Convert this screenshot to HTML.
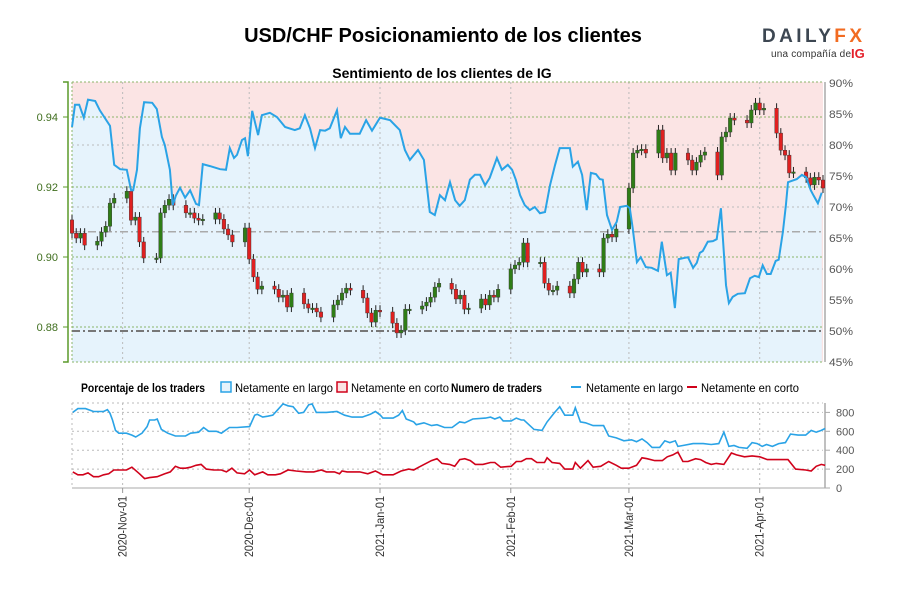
<!DOCTYPE html>
<html><head><meta charset="utf-8"><style>
body{margin:0;background:#fff;width:900px;height:600px;overflow:hidden}
svg text{font-family:"Liberation Sans Narrow","Liberation Sans",sans-serif}
</style></head><body>
<svg id="c" width="900" height="600" xmlns="http://www.w3.org/2000/svg">
<text x="443" y="42" text-anchor="middle" font-size="20" font-weight="bold" style="font-family:'Liberation Sans',sans-serif">USD/CHF Posicionamiento de los clientes</text>
<text x="442" y="78" text-anchor="middle" font-size="14" font-weight="bold" style="font-family:'Liberation Sans',sans-serif">Sentimiento de los clientes de IG</text>
<g>
<text x="762" y="42" font-size="19" font-weight="bold" fill="#3d4752" textLength="100" lengthAdjust="spacing" style="font-family:'Liberation Sans',sans-serif">DAILY<tspan fill="#f26b21">FX</tspan></text>
<text x="771" y="57" font-size="10" fill="#333" textLength="80" style="font-family:'Liberation Sans',sans-serif">una compañía de</text>
<text x="851" y="58" font-size="13" fill="#e4202a" font-weight="bold" style="font-family:'Liberation Sans',sans-serif">IG</text>
</g>
<g id="main"></g>
<g id="bottom"></g>
<g font-size="12">
<text x="81" y="392" font-weight="bold" textLength="124" lengthAdjust="spacingAndGlyphs">Porcentaje de los traders</text>
<rect x="221" y="382" width="10" height="10" fill="#e6f3fb" stroke="#2aa3e6" stroke-width="1.5"/>
<text x="235" y="392" textLength="98" lengthAdjust="spacingAndGlyphs">Netamente en largo</text>
<rect x="337" y="382" width="10" height="10" fill="#fbe3e3" stroke="#d0021b" stroke-width="1.5"/>
<text x="351" y="392" textLength="98" lengthAdjust="spacingAndGlyphs">Netamente en corto</text>
<text x="451" y="392" font-weight="bold" textLength="91" lengthAdjust="spacingAndGlyphs">Numero de traders</text>
<line x1="571" y1="387" x2="581" y2="387" stroke="#2aa3e6" stroke-width="2"/>
<text x="586" y="392" textLength="97" lengthAdjust="spacingAndGlyphs">Netamente en largo</text>
<line x1="687" y1="387" x2="697" y2="387" stroke="#d0021b" stroke-width="2"/>
<text x="701" y="392" textLength="98" lengthAdjust="spacingAndGlyphs">Netamente en corto</text>
</g>
</svg>
<script>
// ---- data ----
const sentDays=[0,0.7,1.7,2.8,3.8,5.5,6.6,9,10,11.4,13,14,14.5,15.4,16.1,17.1,19,20.1,21.3,22,23.2,23.9,24.6,25.6,26.8,28,29.4,30.1,31,32.7,35.1,36.5,37.4,38.4,39.1,40.3,41,41.7,42.7,44.1,45,46.9,48.6,50.5,52.8,54,55.2,56.4,57.6,58.8,60,61.1,62.8,63.7,64.7,65.9,68.2,69.7,71.1,73,75.4,77.7,78.9,80.1,82,83.4,84.8,86,87.2,88.4,89.6,90.8,91.9,93.1,94.3,95.5,96.7,97.9,99,100.7,101.9,103.3,104.3,105.2,106.2,107.3,108.5,109.7,110.9,112.1,113.3,114.5,115.6,118,118.7,119.9,120.9,122,123,124.2,125.1,125.8,126.8,128,129.1,129.9,131.5,132.2,132.9,133.9,134.8,136,137.4,138.9,139.8,141,141.9,142.9,143.8,145.3,146,147.2,148.1,148.8,149.5,150.7,151.9,152.8,153.8,155,155.7,156.6,157.8,159.5,160.7,161.8,162.8,163.7,164.7,165.6,166.8,167.5,168.5,169.2,169.7,171.8,173,174,175.1,175.8,176.8,177.7];
const sentLong=[82.9,86.5,86.5,84.4,87.3,87.1,85.6,83.1,76.8,76.1,76,72.7,72.7,76,82.7,86.9,86.8,85.8,81.3,80,76,70.3,71.8,73.1,71.5,72.7,70.5,70.3,76.9,76.6,76.1,76,79.5,77.9,78.4,80.8,81.1,78.2,85.5,81.6,84.8,85.2,84.5,82.9,82.4,82.7,84.8,82.7,79.5,82.4,82.3,82.7,85.6,81.1,82.9,81.8,81.8,84,82.3,84.4,84,82.4,79.2,77.6,79.2,77.6,69.2,68.7,71.9,71.1,74,71.1,70.2,71.1,74.4,75.2,75.2,73.5,74.7,77.9,76,76.8,76,74.4,71.9,70.3,69.5,70,69,69.2,73.5,76.8,79.5,79.5,76.5,77.3,75.2,69.5,75.5,75.3,74.5,74.4,68.7,66.3,67.6,70,70.2,69.8,66.6,61.1,61.9,60.3,60.2,59.7,64.4,59,59.4,53.7,61.6,61.8,61.9,60.2,61,62.6,62.9,64.4,64.5,64.8,69.8,57.4,54.5,55.5,56,56.1,58.5,58.9,58.7,60.6,59.2,59.2,61.3,61.5,66,70.3,74,74.5,75.2,74.8,72.7,71.8,70.6,72.3];
const closes=[0.9068,0.9054,0.9068,0.9034,
0.9045,0.9071,0.9088,0.9154,0.9168,
0.9188,0.9105,0.9114,0.9043,0.8997,
0.8997,0.9126,0.9148,0.9165,0.9148,
0.9126,0.9126,0.9111,0.9105,0.9108,
0.9126,0.9108,0.9080,0.9063,0.9043,
0.9083,0.8994,0.8943,0.8908,0.8917,
0.8908,0.8885,0.8891,0.8857,0.8897,
0.8866,0.8854,0.8854,0.8843,0.8828,
0.8863,0.8877,0.8897,0.8911,0.8905,
0.8883,0.8840,0.8814,0.8848,0.8843,
0.8811,0.8783,0.8791,0.8851,0.8851,
0.8860,0.8871,0.8885,0.8914,0.8925,
0.8908,0.8880,0.8891,0.8851,0.8854,
0.8880,0.8863,0.8891,0.8885,0.8908,
0.8966,0.8977,0.8985,0.9040,0.8985,
0.8985,0.8925,0.8905,0.8905,0.8917,
0.8897,0.8937,0.8985,0.8957,0.8966,
0.8957,0.9054,0.9065,0.9057,0.9080,
0.9197,0.9297,0.9305,0.9308,0.9297,
0.9363,0.9283,0.9297,0.9248,0.9297,
0.9277,0.9248,0.9271,0.9291,0.9300,
0.9234,0.9343,0.9357,0.9397,0.9391,
0.9383,0.9420,0.9440,0.9420,0.9425,
0.9354,0.9305,0.9291,0.9240,0.9243,
0.9226,0.9206,0.9228,0.9220,0.9197];
const firstOpen=0.9106;
const priceTicks=[0.94,0.92,0.90,0.88];
const priceTickLabels=["0.94","0.92","0.90","0.88"];
const pctTicks=[90,85,80,75,70,65,60,55,50,45];
const monthDays=[12,42,73,104,132,163];
const monthLabels=["2020-Nov-01","2020-Dec-01","2021-Jan-01","2021-Feb-01","2021-Mar-01","2021-Apr-01"];
const longDays=[0.2,1.4,3.2,5.1,7.5,8.4,9.0,9.6,10.3,11.1,12.9,14.2,15.1,16.6,17.8,18.4,19.6,20.2,21.2,22.7,24.5,26.9,28.1,30,31.2,32.4,34.2,35.4,37.3,39.1,42.1,43.3,43.9,45.2,46.4,47.6,48.8,50,51.2,52.4,53.7,54.9,56.1,56.9,57.9,60.3,62.8,64.6,66.4,68.8,70.7,71.9,73.1,73.7,76.1,77.4,78.3,79.2,81,81.6,83.4,85.2,86.5,88.3,90.1,91.9,93.1,95,98,99.2,100.2,101.4,102.2,104.1,105.3,106.5,107.1,109.5,111.4,112.6,114.4,115.6,116.8,118.7,119.3,120.5,121.7,123.5,126,127.2,129,130.8,132.6,133.8,135.1,136.3,137.5,139.3,140.5,141.7,143,143.6,144.8,147.2,149.6,151.5,153.3,154.5,155.7,156.9,158.1,160,161.2,162.4,163.6,164.6,166,167.5,169.1,170.3,172.1,173.9,175.2,176.4,177.6,178.5];
const longVals=[800,840,840,810,810,830,790,720,610,580,580,560,540,580,650,720,720,730,620,580,550,550,580,590,640,600,600,580,640,640,650,770,780,750,760,770,830,890,870,860,790,800,880,890,800,800,810,770,750,750,780,810,770,740,740,770,820,730,700,670,690,660,670,640,640,700,690,730,740,750,730,750,710,710,740,720,720,620,610,700,800,860,770,770,850,700,690,660,660,550,530,500,510,490,520,480,430,430,500,480,500,440,450,470,470,460,470,590,440,450,430,420,480,470,440,460,440,470,480,570,560,560,610,590,610,630];
const shortDays=[0.2,1.4,2.6,3.8,5.1,6.3,7.5,8.7,9.9,11.7,12.9,14.2,16,17.2,18.4,20.2,22,23.3,24.5,25.7,26.9,28.1,29.4,30.6,31.8,33.6,35.4,36.6,37.9,39.1,40.9,42.1,43.3,45.2,46.4,48.2,49.4,51.2,53.1,55.5,57.3,59.1,60.3,62.2,63.4,64,65.2,68.2,70.1,71.9,73.7,76.1,78,79.8,81,82.2,85.2,86.5,87.7,89.5,90.7,91.9,93.1,94.4,95.6,97.4,99.2,100.2,101.6,104.1,105.3,106.5,107.7,108.9,110.2,112,112.6,113.8,115.6,116.8,118.7,119.3,120.5,122.3,123.5,125.3,127.2,129,130.2,132,133.8,135.1,136.3,138.1,139.9,141.1,142.4,143.6,144.8,146,147.8,149,150.2,151.5,152.7,154.5,156.3,157.5,159.4,161.2,163,164.8,166.6,167.9,169.7,171.5,173.9,175.2,176.4,177.6,178.5];
const shortVals=[170,140,140,160,120,120,140,150,190,190,190,220,150,100,110,120,150,170,230,210,210,220,240,250,200,190,190,170,210,160,150,190,140,170,140,140,150,190,180,170,170,190,170,170,150,180,170,170,150,180,140,140,180,200,190,220,290,310,260,250,230,300,310,290,250,250,270,270,220,230,280,280,310,310,270,270,320,270,260,200,200,270,210,290,220,230,280,240,210,210,240,320,310,290,290,330,350,380,280,280,310,300,270,250,260,250,370,350,330,340,330,300,300,300,300,200,190,180,230,250,240];
const trTicks=[0,200,400,600,800];
// ---- scales ----
const X0=72,X1=823,DMAX=178;
const xS=d=>X0+d*(X1-X0)/DMAX;
const pctY=p=>83+(90-p)*6.2;
const priceY=p=>117+(0.94-p)*3500;
const trY=v=>488-v*0.0945;
const NS="http://www.w3.org/2000/svg";
function mk(parent,tag,attrs){const e=document.createElementNS(NS,tag);for(const k in attrs)e.setAttribute(k,attrs[k]);parent.appendChild(e);return e;}
const main=document.getElementById('main'),bot=document.getElementById('bottom');
let bg=mk(main,'rect',{x:X0,y:82,width:X1-X0,height:280,fill:'#fbe4e4'});


let pts=sentDays.map((d,i)=>xS(d).toFixed(1)+','+pctY(sentLong[i]).toFixed(1));
let area=mk(main,'polygon',{points:xS(sentDays[0])+',362 '+pts.join(' ')+' '+xS(sentDays[sentDays.length-1])+',362',fill:'#e6f3fc'});


monthDays.forEach((d,i)=>{let l=mk(main,'line',{x1:xS(d),x2:xS(d),y1:82,y2:362,stroke:'#bbb','stroke-dasharray':'2,3'});

});
[80,70,60].forEach(p=>{let l=mk(main,'line',{x1:X0,x2:X1,y1:pctY(p),y2:pctY(p),stroke:'#bbb','stroke-dasharray':'2,3'});

});
priceTicks.forEach((p,i)=>{let l=mk(main,'line',{x1:X0,x2:X1,y1:priceY(p),y2:priceY(p),stroke:'#8bb56a','stroke-dasharray':'2,2'});


let t=mk(main,'text',{x:58,y:priceY(p)+4,'text-anchor':'end','font-size':11,fill:'#3f6e1e'});t.textContent=priceTickLabels[i];


let tk=mk(main,'line',{x1:63,x2:68,y1:priceY(p),y2:priceY(p),stroke:'#5a9a2a'});

});
[82,362].forEach(y=>{let l=mk(main,'line',{x1:X0,x2:X1,y1:y,y2:y,stroke:'#8bb56a','stroke-dasharray':'2,2'});

});
let lb=mk(main,'line',{x1:X0,x2:X0,y1:82,y2:362,stroke:'#8bb56a','stroke-dasharray':'2,2'});


let la=mk(main,'path',{d:'M63,82H68V362H63',fill:'none',stroke:'#5a9a2a','stroke-width':1.5});


let ra=mk(main,'line',{x1:825,x2:825,y1:82,y2:362,stroke:'#aaa','stroke-width':1.5});


pctTicks.forEach(p=>{let t=mk(main,'text',{x:829,y:pctY(p)+4,'font-size':11,fill:'#555',textLength:24,lengthAdjust:'spacingAndGlyphs'});t.textContent=p+'%';

});
let r66=mk(main,'line',{x1:X0,x2:X1,y1:pctY(66),y2:pctY(66),stroke:'#aaa','stroke-width':1.5,'stroke-dasharray':'8,3,2,3'});


let r50=mk(main,'line',{x1:X0,x2:X1,y1:pctY(50),y2:pctY(50),stroke:'#777','stroke-width':2,'stroke-dasharray':'8,3,2,3'});


let dayList=[];{let d=0;while(dayList.length<closes.length){let w=(2+d)%7;if(w>=1&&w<=5)dayList.push(d);d++;}}
closes.forEach((c,i)=>{const o=i?closes[i-1]:firstOpen;const x=xS(dayList[i]);const yo=priceY(o),yc=priceY(c);
const top=Math.min(yo,yc),bt=Math.max(yo,yc);const up=c>=o;
let w=mk(main,'line',{x1:x,x2:x,y1:top-5,y2:bt+5,stroke:'#222','stroke-width':1});


let r=mk(main,'rect',{x:x-1.8,y:top,width:3.6,height:Math.max(1.5,bt-top),fill:up?'#2f7d16':'#e02020',stroke:'#333','stroke-width':0.4});

});
let sl=mk(main,'polyline',{points:pts.join(' '),fill:'none',stroke:'#2aa3e6','stroke-width':2});


trTicks.forEach(v=>{if(v>0){let l=mk(bot,'line',{x1:X0,x2:X1,y1:trY(v),y2:trY(v),stroke:'#bbb','stroke-dasharray':'2,3'});

}
let t=mk(bot,'text',{x:836,y:trY(v)+4,'font-size':11,fill:'#555'});t.textContent=v;


let tk=mk(bot,'line',{x1:825,x2:830,y1:trY(v),y2:trY(v),stroke:'#aaa'});

});
let tb=mk(bot,'line',{x1:X0,x2:X1,y1:403,y2:403,stroke:'#bbb','stroke-dasharray':'2,3'});


let bb=mk(bot,'line',{x1:X0,x2:825,y1:488,y2:488,stroke:'#aaa'});


let lbd=mk(bot,'line',{x1:X0,x2:X0,y1:403,y2:488,stroke:'#bbb','stroke-dasharray':'2,3'});


let rax=mk(bot,'line',{x1:825,x2:825,y1:403,y2:488,stroke:'#aaa','stroke-width':1.5});


monthDays.forEach((d,i)=>{const x=xS(d);let l=mk(bot,'line',{x1:x,x2:x,y1:403,y2:488,stroke:'#bbb','stroke-dasharray':'2,3'});


let tk=mk(bot,'line',{x1:x,x2:x,y1:488,y2:493,stroke:'#999'});


let t=mk(bot,'text',{x:0,y:0,'font-size':12,fill:'#333','text-anchor':'end',textLength:61,lengthAdjust:'spacingAndGlyphs',transform:'translate('+(x+4)+',496) rotate(-90)'});t.textContent=monthLabels[i];

});
let ll=mk(bot,'polyline',{points:longDays.map((d,i)=>xS(d).toFixed(1)+','+trY(longVals[i]).toFixed(1)).join(' '),fill:'none',stroke:'#2aa3e6','stroke-width':1.6});


let shl=mk(bot,'polyline',{points:shortDays.map((d,i)=>xS(d).toFixed(1)+','+trY(shortVals[i]).toFixed(1)).join(' '),fill:'none',stroke:'#d0021b','stroke-width':1.6});


</script>
</body></html>
